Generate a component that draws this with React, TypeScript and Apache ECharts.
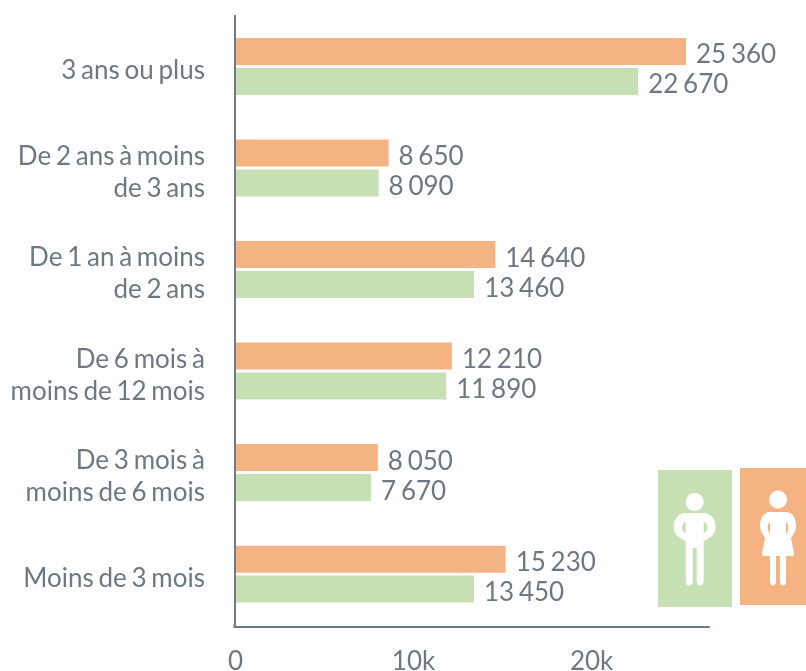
import React, { useEffect, useRef } from "react";
import * as echarts from "echarts";

const categories = ["3 ans ou plus", "De 2 ans à moins\nde 3 ans", "De 1 an à moins\nde 2 ans", "De 6 mois à\nmoins de 12 mois", "De 3 mois à\nmoins de 6 mois", "Moins de 3 mois"];
const femmes = [25360, 8650, 14640, 12210, 8050, 15230];
const hommes = [22670, 8090, 13460, 11890, 7670, 13450];
const xTicks = [0, 10000, 20000];

const ORANGE = "#f5b283";
const GREEN = "#c6e0b4";
const TEXT = "#6d7883";
const AXIS = "#6f7a85";

const manBody = "M-9 -7 L9 -7 C16 -7 21 -1 21 7 C21 15 14 19 9 21 L9 61 C9 67 2 67 2 61 L2 28 L-2 28 L-2 61 C-2 67 -9 67 -9 61 L-9 21 C-14 19 -21 15 -21 7 C-21 -1 -16 -7 -9 -7 Z M-9 2 C-14 3 -14 11 -9 13 Z M9 2 L9 13 C14 11 14 3 9 2 Z";
const womanBody = "M-8 -7 L8 -7 C15 -7 18 0 18 7 C18 12 15 16 13 19 L16 34 C16 37 15 37 14 37 L8 37 L8 62 C8 68 2 68 2 62 L2 37 L-2 37 L-2 62 C-2 68 -8 68 -8 62 L-8 37 L-14 37 C-15 37 -16 37 -16 34 L-13 19 C-15 16 -18 12 -18 7 C-18 0 -15 -7 -8 -7 Z M-8 3 C-11 5 -11 11 -8 15 Z M8 3 L8 15 C11 11 11 5 8 3 Z";
echarts.graphic.registerShape("manBody", (echarts.graphic as any).extendPath(manBody, {}));
echarts.graphic.registerShape("womanBody", (echarts.graphic as any).extendPath(womanBody, {}));

const fmt = (v: number) => String(v).replace(/\B(?=(\d{3})+$)/g, " ");

export default function App() {
  const ref = useRef<HTMLDivElement>(null);
  useEffect(() => {
    const chart = echarts.init(ref.current!, undefined, { renderer: "svg" });
    const label = {
      show: true,
      position: "right" as const,
      distance: 10,
      offset: [0, 2],
      fontFamily: "Lato",
      fontSize: 26,
      color: TEXT,
      formatter: (p: any) => fmt(p.value),
    };
    chart.setOption({
      animation: false,
      grid: { left: 234.5, top: 15.7, width: 474.5, height: 609.2, outerBoundsMode: "none" },
      xAxis: {
        type: "value",
        min: 0,
        max: 26650,
        interval: 10000,
        offset: 2,
        splitLine: { show: false },
        axisTick: { show: false },
        axisLine: { show: true, lineStyle: { color: AXIS, width: 2 } },
        axisLabel: {
          margin: 24,
          fontFamily: "Lato",
          fontSize: 26,
          lineHeight: 18,
          color: TEXT,
          showMaxLabel: false,
          padding: [0, 0, 0, 2],
          formatter: (v: number) => (xTicks.includes(v) ? (v === 0 ? "0" : v / 1000 + "k") : ""),
        },
      },
      yAxis: {
        type: "category",
        inverse: true,
        data: categories,
        z: 5,
        axisTick: { show: false },
        axisLine: { show: true, lineStyle: { color: AXIS, width: 2 } },
        axisLabel: {
          margin: 29.5,
          align: "right",
          padding: [5, 0, 0, 0],
          formatter: (v: string) => v.split("\n").map((l) => `{t|${l}}`).join("\n"),
          rich: {
            t: { fontFamily: "Lato", fontSize: 26, lineHeight: 32, color: TEXT, align: "right" },
          },
        },
      },
      series: [
        { type: "bar", name: "Femmes", data: femmes, barWidth: 27, barGap: "11%", itemStyle: { color: ORANGE }, label, z: 3 },
        { type: "bar", name: "Hommes", data: hommes, barWidth: 27, barGap: "11%", itemStyle: { color: GREEN }, label, z: 3 },
      ],
      graphic: [
        { type: "line", shape: { x1: 234.5, y1: 624, x2: 234.5, y2: 628 }, style: { stroke: AXIS, lineWidth: 2 } },
        { type: "rect", shape: { x: 658, y: 470, width: 74, height: 137 }, style: { fill: GREEN } },
        { type: "rect", shape: { x: 740, y: 468, width: 66, height: 137 }, style: { fill: ORANGE } },
        { type: "circle", shape: { cx: 694.7, cy: 502, r: 9 }, style: { fill: "#fff" } },
        { type: "manBody", x: 694.7, y: 520, style: { fill: "#fff", fillRule: "evenodd" } },
        { type: "circle", shape: { cx: 778, cy: 499.5, r: 9 }, style: { fill: "#fff" } },
        { type: "womanBody", x: 778, y: 519, style: { fill: "#fff", fillRule: "evenodd" } },
      ],
    });
    return () => chart.dispose();
  }, []);
  return (
    <>
      <style>{".chart-box text { word-spacing: -1.9px; }"}</style>
      <div className="chart-box" ref={ref} style={{ position: "fixed", left: 0, top: 0, width: 806, height: 671 }} />
    </>
  );
}
